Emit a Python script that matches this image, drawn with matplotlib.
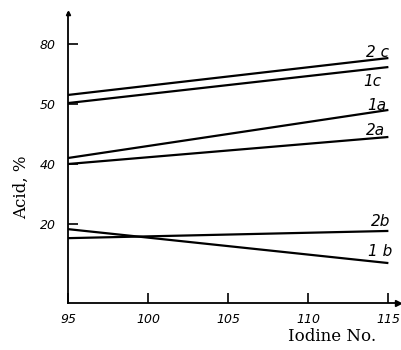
import matplotlib
matplotlib.use("Agg")
import matplotlib.pyplot as plt

# iodine number range of each line
iodine = [95, 115]

# acid, % at the two ends of each line
series = {
    "2 c": [63.0, 75.3],
    "1c": [60.3, 72.3],
    "1a": [42.0, 58.0],
    "2a": [40.0, 49.0],
    "2b": [15.3, 17.7],
    "1 b": [18.3, 7.0],
}

# where each label sits (iodine, acid)
label_pos = {
    "2 c": (113.6, 77.0),
    "1c": (113.4, 67.5),
    "1a": (113.7, 59.5),
    "2a": (113.6, 51.0),
    "2b": (113.9, 21.0),
    "1 b": (113.7, 11.0),
}

x_ticks = [95, 100, 105, 110, 115]
x_tick_labels = ["95", "100", "105", "110", "115"]
y_ticks = [20, 40, 60, 80]
y_tick_labels = ["20", "40", "50", "80"]

fig = plt.figure(figsize=(4.01, 3.5), dpi=100)
ax = fig.add_axes([68 / 401, 1 - 303 / 350, 330 / 401, 290 / 350])

for name, vals in series.items():
    ax.plot(iodine, vals, color="black", lw=1.6, solid_capstyle="butt")
    lx, ly = label_pos[name]
    ax.text(lx, ly, name, fontsize=11, ha="left", va="center", style="italic")

ax.set_xlim(95, 115.6)
ax.set_ylim(-6.3, 90.3)

for s in ["top", "right"]:
    ax.spines[s].set_visible(False)
for s in ["left", "bottom"]:
    ax.spines[s].set_linewidth(1.3)

# arrow heads at the axis ends
ax.plot(1, 0, ">k", ms=4, transform=ax.transAxes, clip_on=False)
ax.plot(0, 1, "^k", ms=3, transform=ax.transAxes, clip_on=False)

ax.set_xticks(x_ticks)
ax.set_xticklabels(x_tick_labels, fontsize=9, style="italic")
ax.set_yticks(y_ticks)
ax.set_yticklabels(y_tick_labels, fontsize=9, style="italic")
ax.tick_params(direction="in", length=7, width=1.2, pad=9)
ax.tick_params(axis="x", pad=7)

ax.set_xlabel("Iodine No.", family="DejaVu Serif", fontsize=12)
ax.xaxis.set_label_coords(0.8, -0.085)
ax.set_ylabel("Acid, %", family="DejaVu Serif", fontsize=12)
ax.yaxis.set_label_coords(-0.115, 0.4)

fig.savefig("out.png", dpi=100)
